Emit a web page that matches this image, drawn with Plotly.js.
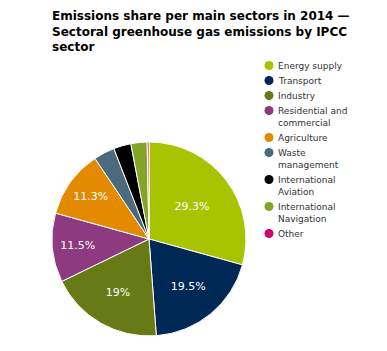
<!DOCTYPE html>
<html>
<head>
<meta charset="utf-8">
<script src="https://cdn.plot.ly/plotly-3.0.1.min.js"></script>
<style>html,body{margin:0;padding:0;background:#fff;}#chart{width:387px;height:351px;}</style>
</head>
<body>
<div id="chart"></div>
<script>
const sectors = ["Energy supply", "Transport", "Industry", "Residential and commercial", "Agriculture", "Waste management", "International Aviation", "International Navigation", "Other"];
const legendLabels = ["Energy supply", "Transport", "Industry", "Residential and<br>commercial", "Agriculture", "Waste<br>management", "International<br>Aviation", "International<br>Navigation", "Other"];
const shares = [29.3, 19.5, 19, 11.5, 11.3, 3.5, 2.9, 2.7, 0.3];
const colors = ["#a8c300", "#002856", "#687a16", "#8e3a80", "#e38a00", "#4c6a7e", "#000000", "#84a428", "#d0006e"];

const W = 387, H = 351;
const traces = [{
  type: 'pie',
  labels: sectors,
  values: shares,
  text: shares.map(v => v >= 5 ? v + '%' : ''),
  textinfo: 'text',
  textposition: 'inside',
  insidetextorientation: 'horizontal',
  textfont: {family: 'DejaVu Sans', size: 11, color: '#ffffff'},
  marker: {colors: colors, line: {color: '#ffffff', width: 1}},
  sort: false,
  direction: 'clockwise',
  rotation: 0,
  showlegend: false,
  hoverinfo: 'label+percent',
  domain: {x: [52 / W, 246 / W], y: [(H - 336) / H, (H - 142) / H]}
}];

// custom legend (circles + wrapped labels) built from the arrays
const shapes = [], annotations = [];
let yPix = 65.5;
const lineH = 12.3;
legendLabels.forEach((lab, i) => {
  const nLines = lab.split('<br>').length;
  shapes.push({
    type: 'circle', xref: 'paper', yref: 'paper',
    x0: (269 - 4.5) / W, x1: (269 + 4.5) / W,
    y0: (H - yPix - 4.5) / H, y1: (H - yPix + 4.5) / H,
    fillcolor: colors[i], line: {width: 0}
  });
  annotations.push({
    xref: 'paper', yref: 'paper', x: 276 / W, xanchor: 'left',
    y: (H - yPix + 6.5) / H, yanchor: 'top', align: 'left',
    text: lab, showarrow: false,
    font: {family: 'DejaVu Sans', size: 9, color: '#333333'}
  });
  yPix += nLines === 1 ? 15 : 27;
});

const layout = {
  width: W, height: H,
  margin: {l: 0, r: 0, t: 0, b: 0},
  paper_bgcolor: '#ffffff', plot_bgcolor: '#ffffff',
  title: {
    text: '<b>Emissions share per main sectors in 2014 —<br>Sectoral greenhouse gas emissions by IPCC<br>sector</b>',
    x: 52 / W, xanchor: 'left', xref: 'container',
    y: 0.9423, yanchor: 'top', yref: 'container',
    font: {family: 'DejaVu Sans', size: 12, color: '#000000'}
  },
  shapes: shapes,
  annotations: annotations,
  showlegend: false
};
Plotly.newPlot('chart', traces, layout, {displayModeBar: false, staticPlot: true});
</script>
</body>
</html>
